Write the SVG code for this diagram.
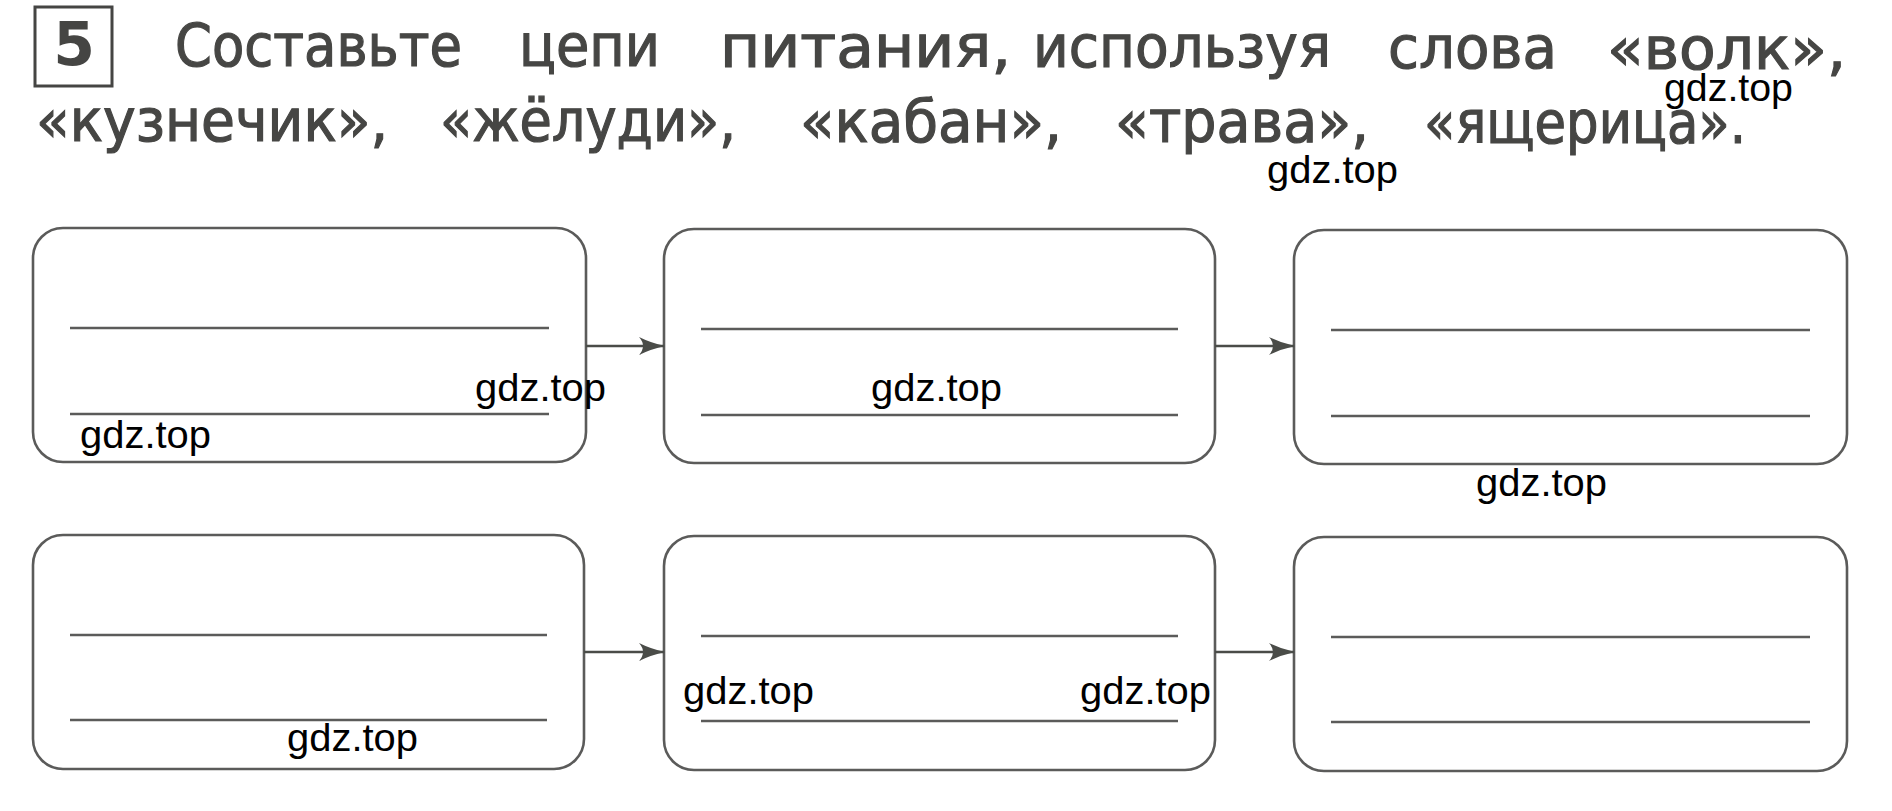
<svg xmlns="http://www.w3.org/2000/svg" width="1892" height="811" viewBox="0 0 1892 811">
<defs>
<style>
.h{font-family:"DejaVu Sans","Verdana",sans-serif;font-size:58px;fill:#464644;stroke:#464644;stroke-width:1.2;}
.wm{font-family:"Liberation Sans",Arial,sans-serif;font-size:38px;fill:#000;}
.box{fill:#fff;stroke:#5b5b5a;stroke-width:2.6;}
.ln{stroke:#5b5b5a;stroke-width:2.6;}
.con{stroke:#4a4c48;stroke-width:2.6;fill:none;marker-end:url(#ah);}
</style>
<marker id="ah" markerUnits="userSpaceOnUse" viewBox="0 0 26 20" refX="25" refY="10" markerWidth="26" markerHeight="20" orient="auto">
<path d="M0,1 Q12,7 26,10 Q12,13 0,19 Q8,10 0,1 Z" fill="#4a4c48"/>
</marker>
</defs>
<rect width="1892" height="811" fill="#fff"/>
<g id="title">
<rect x="35" y="7" width="77" height="79" fill="none" stroke="#454543" stroke-width="3"/>
<text x="74" y="65" text-anchor="middle" style="font-family:'DejaVu Sans',sans-serif;font-weight:bold;font-size:60px;fill:#454543">5</text>
<text class="h" x="175" y="66" textLength="287" lengthAdjust="spacingAndGlyphs">Составьте</text>
<text class="h" x="519" y="66" textLength="141" lengthAdjust="spacingAndGlyphs">цепи</text>
<text class="h" x="720" y="67" textLength="291" lengthAdjust="spacingAndGlyphs">питания,</text>
<text class="h" x="1033" y="67" textLength="298" lengthAdjust="spacingAndGlyphs">используя</text>
<text class="h" x="1388" y="68" textLength="169" lengthAdjust="spacingAndGlyphs">слова</text>
<text class="h" x="1607" y="69" textLength="239" lengthAdjust="spacingAndGlyphs">«волк»,</text>
<text class="h" x="36" y="141" textLength="352" lengthAdjust="spacingAndGlyphs">«кузнечик»,</text>
<text class="h" x="440" y="141" textLength="296" lengthAdjust="spacingAndGlyphs">«жёлуди»,</text>
<text class="h" x="800" y="142" textLength="262" lengthAdjust="spacingAndGlyphs">«кабан»,</text>
<text class="h" x="1115" y="142" textLength="254" lengthAdjust="spacingAndGlyphs">«трава»,</text>
<text class="h" x="1424" y="143" textLength="322" lengthAdjust="spacingAndGlyphs">«ящерица».</text>
</g>
<g id="node1">
<rect class="box" x="33" y="228" width="553" height="234" rx="30"/>
<line class="ln" x1="70" y1="328" x2="549" y2="328"/>
<line class="ln" x1="70" y1="414" x2="549" y2="414"/>
</g>
<g id="node2">
<rect class="box" x="664" y="229" width="551" height="234" rx="30"/>
<line class="ln" x1="701" y1="329" x2="1178" y2="329"/>
<line class="ln" x1="701" y1="415" x2="1178" y2="415"/>
</g>
<g id="node3">
<rect class="box" x="1294" y="230" width="553" height="234" rx="30"/>
<line class="ln" x1="1331" y1="330" x2="1810" y2="330"/>
<line class="ln" x1="1331" y1="416" x2="1810" y2="416"/>
</g>
<g id="node4">
<rect class="box" x="33" y="535" width="551" height="234" rx="30"/>
<line class="ln" x1="70" y1="635" x2="547" y2="635"/>
<line class="ln" x1="70" y1="720" x2="547" y2="720"/>
</g>
<g id="node5">
<rect class="box" x="664" y="536" width="551" height="234" rx="30"/>
<line class="ln" x1="701" y1="636" x2="1178" y2="636"/>
<line class="ln" x1="701" y1="721" x2="1178" y2="721"/>
</g>
<g id="node6">
<rect class="box" x="1294" y="537" width="553" height="234" rx="30"/>
<line class="ln" x1="1331" y1="637" x2="1810" y2="637"/>
<line class="ln" x1="1331" y1="722" x2="1810" y2="722"/>
</g>
<g id="connectors">
<line class="con" x1="586" y1="346" x2="664" y2="346"/>
<line class="con" x1="1215" y1="346" x2="1294" y2="346"/>
<line class="con" x1="584" y1="652" x2="664" y2="652"/>
<line class="con" x1="1215" y1="652" x2="1294" y2="652"/>
</g>
<g id="watermarks">
<text class="wm" x="1664" y="101" textLength="129" lengthAdjust="spacingAndGlyphs">gdz.top</text>
<text class="wm" x="1267" y="183" textLength="131" lengthAdjust="spacingAndGlyphs">gdz.top</text>
<text class="wm" x="475" y="401" textLength="131" lengthAdjust="spacingAndGlyphs">gdz.top</text>
<text class="wm" x="80" y="448" textLength="131" lengthAdjust="spacingAndGlyphs">gdz.top</text>
<text class="wm" x="871" y="401" textLength="131" lengthAdjust="spacingAndGlyphs">gdz.top</text>
<text class="wm" x="1476" y="496" textLength="131" lengthAdjust="spacingAndGlyphs">gdz.top</text>
<text class="wm" x="683" y="704" textLength="131" lengthAdjust="spacingAndGlyphs">gdz.top</text>
<text class="wm" x="1080" y="704" textLength="131" lengthAdjust="spacingAndGlyphs">gdz.top</text>
<text class="wm" x="287" y="751" textLength="131" lengthAdjust="spacingAndGlyphs">gdz.top</text>
</g>
</svg>
